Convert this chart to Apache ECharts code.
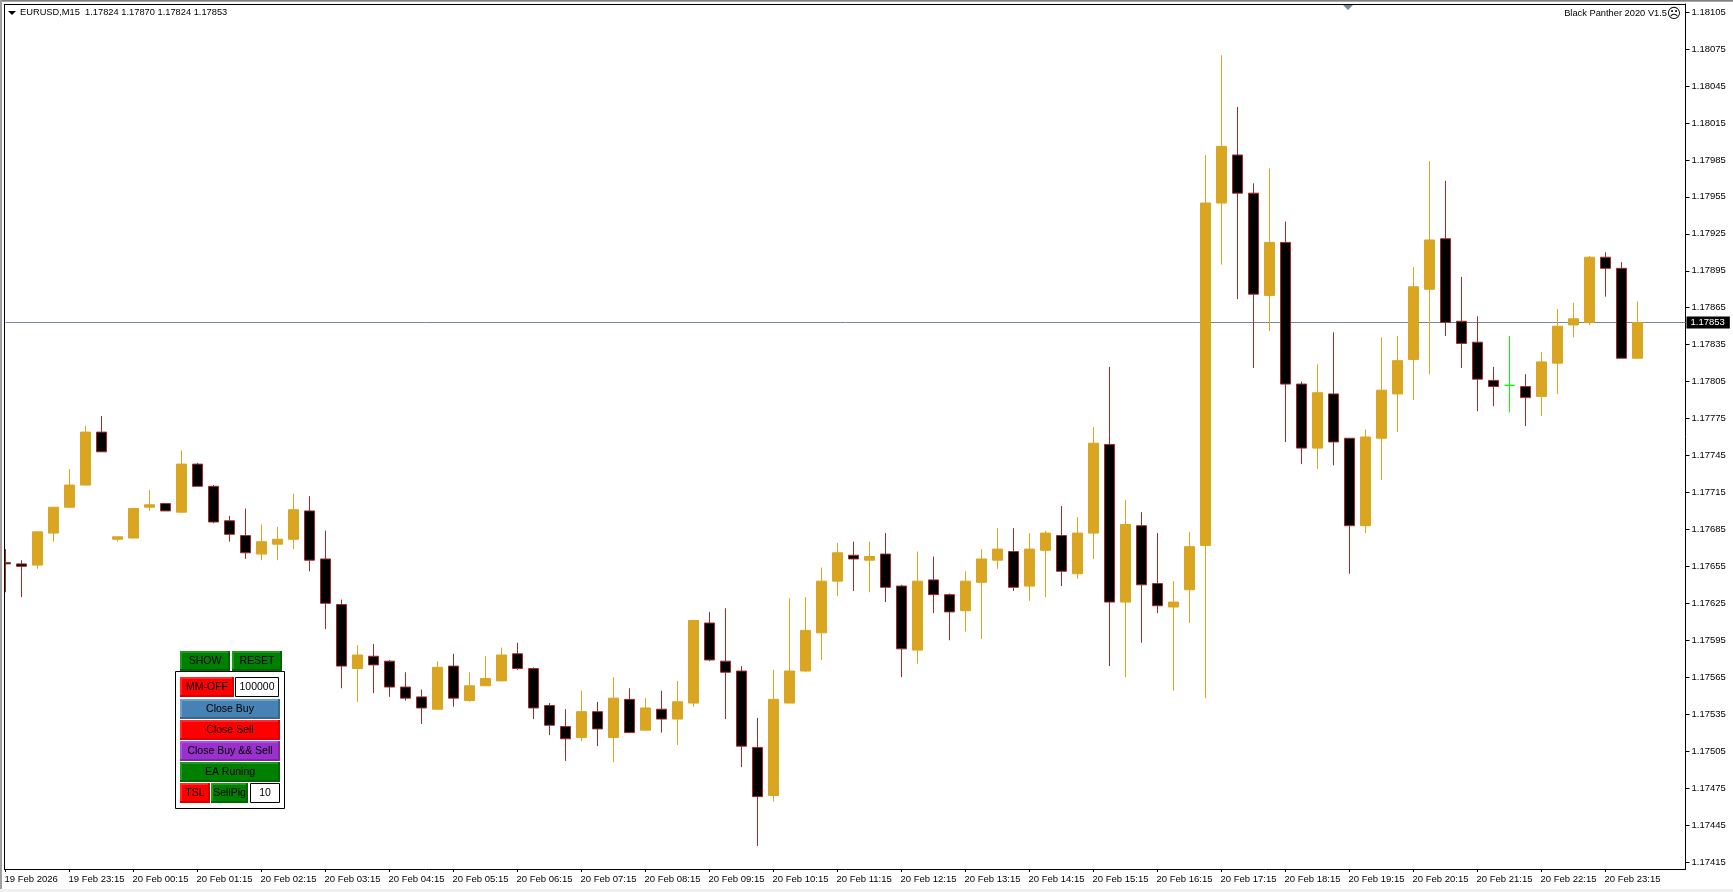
<!DOCTYPE html>
<html>
<head>
<meta charset="utf-8">
<style>html,body{margin:0;padding:0;background:#fff}#c{width:1733px;height:892px}</style>
<script src="https://cdn.jsdelivr.net/npm/echarts@6/dist/echarts.min.js"></script>
</head>
<body>
<div id="c"></div>
<script>
const tickLabels = ["19 Feb 2026","19 Feb 23:15","20 Feb 00:15","20 Feb 01:15","20 Feb 02:15","20 Feb 03:15","20 Feb 04:15","20 Feb 05:15","20 Feb 06:15","20 Feb 07:15","20 Feb 08:15","20 Feb 09:15","20 Feb 10:15","20 Feb 11:15","20 Feb 12:15","20 Feb 13:15","20 Feb 14:15","20 Feb 15:15","20 Feb 16:15","20 Feb 17:15","20 Feb 18:15","20 Feb 19:15","20 Feb 20:15","20 Feb 21:15","20 Feb 22:15","20 Feb 23:15"];
const priceTicks = [1.18105,1.18075,1.18045,1.18015,1.17985,1.17955,1.17925,1.17895,1.17865,1.17835,1.17805,1.17775,1.17745,1.17715,1.17685,1.17655,1.17625,1.17595,1.17565,1.17535,1.17505,1.17475,1.17445,1.17415];
const opens = [1.17658,1.17657,1.17656,1.17682,1.17703,1.17721,1.17764,1.17677,1.17678,1.17703,
1.17706,1.17699,1.17738,1.17720,1.17692,1.17680,1.17665,1.17673,1.17677,1.17700,
1.17661,1.17624,1.17572,1.17582,1.17578,1.17557,1.17549,1.17539,1.17574,1.17546,
1.17558,1.17562,1.17584,1.17572,1.17542,1.17525,1.17516,1.17537,1.17516,1.17547,
1.17522,1.17539,1.17531,1.17544,1.17609,1.17578,1.17570,1.17508,1.17469,1.17544,
1.17570,1.17601,1.17643,1.17664,1.17660,1.17665,1.17639,1.17587,1.17644,1.17632,
1.17619,1.17642,1.17660,1.17667,1.17639,1.17668,1.17680,1.17649,1.17682,1.17754,
1.17626,1.17688,1.17641,1.17622,1.17636,1.17672,1.17950,1.17989,1.17958,1.17875,
1.17918,1.17803,1.17751,1.17795,1.17759,1.17688,1.17759,1.17795,1.17823,1.17880,
1.17921,1.17854,1.17837,1.17806,1.17802,1.17801,1.17793,1.17820,1.17851,1.17853,
1.17906,1.17897,1.17824];
const closes = [1.17657,1.17655,1.17683,1.17703,1.17721,1.17764,1.17748,1.17679,1.17702,1.17705,
1.17700,1.17738,1.17720,1.17691,1.17681,1.17666,1.17675,1.17677,1.17701,1.17660,
1.17625,1.17574,1.17583,1.17575,1.17557,1.17548,1.17540,1.17573,1.17548,1.17558,
1.17564,1.17583,1.17572,1.17540,1.17526,1.17515,1.17537,1.17523,1.17548,1.17520,
1.17540,1.17531,1.17545,1.17611,1.17579,1.17569,1.17509,1.17468,1.17547,1.17570,
1.17603,1.17643,1.17666,1.17661,1.17663,1.17638,1.17588,1.17643,1.17632,1.17618,
1.17643,1.17661,1.17669,1.17638,1.17669,1.17682,1.17651,1.17682,1.17755,1.17626,
1.17689,1.17640,1.17623,1.17626,1.17671,1.17950,1.17996,1.17958,1.17876,1.17918,
1.17803,1.17751,1.17796,1.17756,1.17688,1.17760,1.17798,1.17822,1.17882,1.17920,
1.17853,1.17836,1.17807,1.17801,1.17802,1.17792,1.17821,1.17850,1.17856,1.17906,
1.17897,1.17824,1.17853];
const lows = [1.17634,1.17630,1.17653,1.17675,1.17703,1.17721,1.17748,1.17675,1.17678,1.17700,
1.17700,1.17699,1.17720,1.17690,1.17675,1.17661,1.17660,1.17660,1.17669,1.17651,
1.17604,1.17556,1.17545,1.17552,1.17549,1.17546,1.17527,1.17539,1.17541,1.17545,
1.17558,1.17562,1.17571,1.17531,1.17518,1.17497,1.17513,1.17509,1.17496,1.17520,
1.17522,1.17520,1.17510,1.17541,1.17578,1.17531,1.17492,1.17428,1.17464,1.17544,
1.17569,1.17579,1.17631,1.17635,1.17634,1.17626,1.17565,1.17576,1.17617,1.17595,
1.17602,1.17596,1.17653,1.17635,1.17627,1.17630,1.17639,1.17645,1.17661,1.17574,
1.17565,1.17593,1.17617,1.17554,1.17609,1.17548,1.17900,1.17872,1.17816,1.17846,
1.17756,1.17738,1.17734,1.17737,1.17649,1.17682,1.17725,1.17764,1.17790,1.17811,
1.17842,1.17816,1.17781,1.17785,1.17780,1.17769,1.17777,1.17795,1.17841,1.17851,
1.17874,1.17824,1.17824];
const highs = [1.17669,1.17660,1.17683,1.17703,1.17734,1.17769,1.17777,1.17679,1.17702,1.17717,
1.17706,1.17749,1.17739,1.17721,1.17696,1.17702,1.17689,1.17687,1.17714,1.17712,
1.17684,1.17628,1.17591,1.17592,1.17579,1.17569,1.17555,1.17578,1.17584,1.17569,
1.17582,1.17589,1.17593,1.17573,1.17544,1.17539,1.17554,1.17545,1.17565,1.17556,
1.17548,1.17554,1.17562,1.17611,1.17618,1.17621,1.17574,1.17532,1.17571,1.17629,
1.17630,1.17654,1.17674,1.17675,1.17675,1.17682,1.17640,1.17667,1.17663,1.17633,
1.17651,1.17669,1.17686,1.17686,1.17682,1.17684,1.17704,1.17695,1.17768,1.17817,
1.17709,1.17699,1.17682,1.17643,1.17683,1.17989,1.18070,1.18028,1.17966,1.17978,
1.17935,1.17805,1.17819,1.17845,1.17759,1.17766,1.17841,1.17842,1.17898,1.17984,
1.17968,1.17890,1.17858,1.17817,1.17842,1.17811,1.17829,1.17864,1.17869,1.17907,
1.17910,1.17902,1.17870];
const dojiIndex = 94;
const lastPrice = 1.17853;
const titleText = "EURUSD,M15  1.17824 1.17870 1.17824 1.17853";
const robotText = "Black Panther 2020 V1.5";

const categories = [];
for (let i = 0; i < 106; i++) categories.push(String(i));
const FONT = '9.3px "Liberation Sans"';
const bull = '#DAA520', bearBorder = '#A52A2A';

const candles = opens.map((o, i) => {
  const d = {value: [o, closes[i], lows[i], highs[i]]};
  if (i === dojiIndex) d.itemStyle = {color:'#00FF00',color0:'#00FF00',borderColor:'#00FF00',borderColor0:'#00FF00'};
  return d;
});

const g = [];
function rect(x,y,w,h,fill,stroke){ g.push({type:'rect',silent:true,z:50,shape:{x,y,width:w,height:h},style:{fill:fill||'none',stroke:stroke||null,lineWidth:stroke?1:0}}); }
function label(cx,cy,text,size,color){ g.push({type:'text',silent:true,z:60,style:{x:cx,y:cy,text,align:'center',verticalAlign:'middle',font:(size||10.5)+'px "Liberation Sans"',fill:color||'#000'}}); }
function button(x,y,w,h,fill,light,dark,text,size){
  rect(x,y,w,h,fill);
  rect(x,y,w,2,light); rect(x,y,2,h,light);
  rect(x,y+h-2,w,2,dark); rect(x+w-2,y,2,h,dark);
  label(x+w/2,y+h/2,text,size);
}
function edit(x,y,w,h,text){ rect(x+.5,y+.5,w-1,h-1,'#fff','#000'); label(x+w/2,y+h/2,text,10.5); }

// window frame (the white strip also trims the first candle at the chart's left edge)
rect(0,0,4,892,'#fff');
rect(0,0,1733,1,'#808080'); rect(0,1,1733,1,'#a8a8a8'); rect(0,0,2,892,'#a0a0a0');
rect(0,889,1733,3,'#f0f0f0');
rect(4,4,1,866,'#000'); rect(4,4,1682,1,'#000');
// top-of-chart shift marker
g.push({type:'polygon',silent:true,z:50,shape:{points:[[1343,5],[1353,5],[1348,10]]},style:{fill:'#778899'}});
// header
g.push({type:'polygon',silent:true,z:50,shape:{points:[[8,11],[16,11],[12,15]]},style:{fill:'#000'}});
g.push({type:'text',silent:true,z:60,style:{x:20,y:12.5,text:titleText,align:'left',verticalAlign:'middle',font:FONT,fill:'#000'}});
g.push({type:'text',silent:true,z:60,style:{x:1667,y:13.5,text:robotText,align:'right',verticalAlign:'middle',font:FONT,fill:'#000'}});
g.push({type:'text',silent:true,z:60,style:{x:1674,y:14,text:'\u2639',align:'center',verticalAlign:'middle',font:'14px "DejaVu Sans"',fill:'#000'}});
// control panel
const GREEN=['#008000','#1f9a1f','#006600'], RED=['#FF0000','#ff2a2a','#d80000'], BLUE=['#4682B4','#6aa0cc','#38688f'], ORCHID=['#9932CC','#ad50de','#7a28a3'];
button(180,651,50,20,...GREEN,'SHOW',10.5);
button(232,651,50,20,...GREEN,'RESET',10.5);
rect(175.5,671.5,109,137,'#fff','#000');
button(180,677,54,20,...RED,'MM-OFF',10.5);
edit(235,677,44,20,'100000');
button(180,699,100,20,...BLUE,'Close Buy',10.5);
button(180,720,100,20,...RED,'Close Sell',10.5);
button(180,741,100,20,...ORCHID,'Close Buy && Sell',10.5);
button(180,762,100,20,...GREEN,'EA Runing',10.5);
button(180,783,30,20,...RED,'TSL',10.5);
button(211,783,37,20,...GREEN,'SellPig',10.5);
edit(250,783,30,20,'10');

const chart = echarts.init(document.getElementById('c'), null, {renderer:'canvas', width:1733, height:892});
chart.setOption({
  animation:false,
  backgroundColor:'#fff',
  grid:{left:5.5,right:47.5,top:4,bottom:23,containLabel:false},
  xAxis:{
    type:'category',data:categories,boundaryGap:false,position:'bottom',
    axisLine:{show:true,onZero:false,lineStyle:{color:'#000',width:1}},
    axisTick:{show:true,length:3,inside:false,lineStyle:{color:'#000'},interval:(i)=>i%4===0&&i<=100},
    axisLabel:{show:true,interval:(i)=>i%4===0&&i<=100,align:'left',margin:5,padding:[0,0,0,-1],color:'#000',fontFamily:'Liberation Sans',fontSize:9.5,formatter:(v,i)=>tickLabels[i/4]||''},
    splitLine:{show:false}
  },
  yAxis:{
    type:'value',position:'right',scale:true,min:1.1740926,max:1.181116,
    axisLine:{show:true,lineStyle:{color:'#000',width:1}},
    axisTick:{show:true,length:4,inside:false,lineStyle:{color:'#000'},customValues:priceTicks},
    axisLabel:{show:true,align:'left',margin:6,color:'#000',fontFamily:'Liberation Sans',fontSize:9.5,customValues:priceTicks,formatter:(v)=>v.toFixed(5)},
    splitLine:{show:false}
  },
  series:[{
    type:'candlestick',data:candles,barWidth:10,
    itemStyle:{color:bull,color0:'#000',borderColor:bull,borderColor0:bearBorder,borderWidth:1},
    silent:true,
    markLine:{
      z:1,silent:true,symbol:['none','none'],animation:false,precision:5,
      lineStyle:{color:'#778899',width:1,type:'solid'},
      label:{show:true,position:'end',distance:1,formatter:()=>lastPrice.toFixed(5),color:'#fff',backgroundColor:'#000',padding:[1,5,1,4],fontFamily:'Liberation Sans',fontSize:9.5,align:'left'},
      data:[{yAxis:lastPrice}]
    }
  }],
  graphic:g
});
</script>
</body>
</html>
